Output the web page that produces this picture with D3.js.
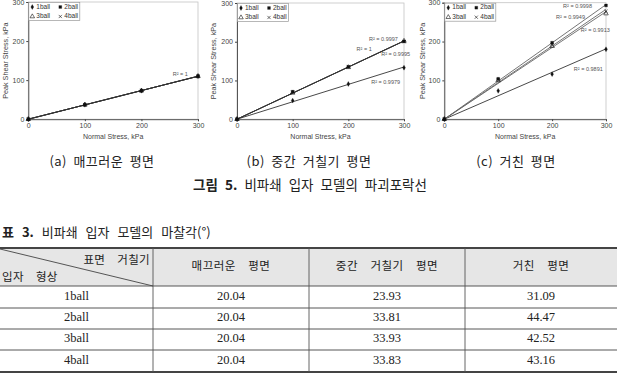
<!DOCTYPE html>
<html>
<head>
<meta charset="utf-8">
<script src="https://cdn.jsdelivr.net/npm/d3@7"></script>
<style>
body { margin: 0; background: #fff; }
svg text { font-family: "Liberation Sans", Arial, sans-serif; }
.kr { font-family: "Noto Sans CJK KR", sans-serif; }
.tbl { font-family: "Liberation Serif", "Noto Sans CJK KR", serif; }
</style>
</head>
<body>
<div id="chart"></div>
<script>
// normal stress (kPa) and series
var stress = [0, 100, 200, 300];
var balls = ['1ball', '2ball', '3ball', '4ball'];
var axisTicks = [0, 100, 200, 300];

// peak shear stress (kPa), one row per ball shape
var smoothShear = [[0, 37, 73, 110], [0, 37, 73, 110], [0, 37, 73, 110], [0, 37, 73, 110]];
var mediumShear = [[0, 48, 91, 133], [0, 71, 135, 201], [0, 68, 134, 202], [0, 70, 136, 200]];
var roughShear = [[0, 73, 116, 180], [0, 104, 197, 293], [0, 100, 188, 272], [0, 102, 192, 278]];

// R^2 of the trend lines
var smoothR2 = ['1', '1', '1', '1'];
var mediumR2 = ['0.9979', '0.9997', '1', '0.9995'];
var roughR2 = ['0.9891', '0.9998', '0.9913', '0.9949'];

var captions = ['(a) 매끄러운 평면', '(b) 중간 거칠기 평면', '(c) 거친 평면'];
var figCaption = '비파쇄 입자 모델의 파괴포락선';
var tblCaption = '비파쇄 입자 모델의 마찰각(°)';
var tableCols = ['매끄러운 평면', '중간 거칠기 평면', '거친 평면'];
var frictionAngle = [['20.04', '23.93', '31.09'], ['20.04', '33.81', '44.47'], ['20.04', '33.93', '42.52'], ['20.04', '33.83', '43.16']];

// where the R^2 labels sit, in data units (right end, middle)
var smoothLabelAt = [[282, 115]];
var mediumLabelAt = [[293, 94], [289, 206], [242, 181], [311, 168]];
var roughLabelAt = [[294, 129], [274, 289], [307, 228], [261, 262]];

var W = 617, H = 379;
var svg = d3.select('#chart').append('svg')
    .attr('width', W)
    .attr('height', H);

var panels = [
  {shear: smoothShear, r2: smoothR2, lab: smoothLabelAt, left: 28.3, right: 198, top: 2, titleX: 6},
  {shear: mediumShear, r2: mediumR2, lab: mediumLabelAt, left: 237, right: 404, top: 3, titleX: 214},
  {shear: roughShear, r2: roughR2, lab: roughLabelAt, left: 444.3, right: 606, top: 2.7, titleX: 423}
];
var plotBottom = 119.2;

var symbols = [
  d3.symbol().type(d3.symbolDiamond).size(7),
  d3.symbol().type(d3.symbolSquare).size(8),
  d3.symbol().type(d3.symbolTriangle).size(9),
  d3.symbol().type(d3.symbolTimes || d3.symbolCross).size(8)
];
var symFill = ['#111', '#111', 'none', 'none'];

panels.forEach(function(p, pi) {
  var x = d3.scaleLinear().domain([0, 300]).range([p.left, p.right]);
  var y = d3.scaleLinear().domain([0, 300]).range([plotBottom, p.top]);
  var g = svg.append('g');

  // light frame
  g.append('rect')
    .attr('x', p.left).attr('y', p.top)
    .attr('width', p.right - p.left).attr('height', plotBottom - p.top)
    .style('fill', 'none').style('stroke', '#c4c4c4').style('stroke-width', 0.8);

  var xAxis = g.append('g')
    .attr('transform', 'translate(0,' + plotBottom + ')')
    .call(d3.axisBottom(x).tickValues(axisTicks).tickSize(2).tickPadding(2));
  var yAxis = g.append('g')
    .attr('transform', 'translate(' + p.left + ',0)')
    .call(d3.axisLeft(y).tickValues(axisTicks).tickSize(2).tickPadding(2));
  [xAxis, yAxis].forEach(function(a) {
    a.select('.domain').style('stroke', '#444').style('stroke-width', 0.9);
    a.selectAll('.tick line').style('stroke', '#444');
    a.selectAll('.tick text')
      .style('font-family', '"Liberation Sans", Arial, sans-serif')
      .style('font-size', '7px')
      .style('fill', '#444');
  });

  g.append('text')
    .attr('x', (p.left + p.right) / 2)
    .attr('y', 139)
    .attr('text-anchor', 'middle')
    .style('font-size', '7px')
    .style('fill', '#444')
    .text('Normal Stress, kPa');

  g.append('text')
    .attr('transform', 'translate(' + p.titleX + ',' + (plotBottom + p.top) / 2 + ') rotate(-90)')
    .attr('text-anchor', 'middle')
    .attr('dominant-baseline', 'middle')
    .style('font-size', '7.2px')
    .style('fill', '#444')
    .text('Peak Shear Stress, kPa');

  // trend lines through origin
  p.shear.forEach(function(vals, si) {
    var sxy = d3.sum(stress, function(s, k) { return s * vals[k]; });
    var sxx = d3.sum(stress, function(s) { return s * s; });
    var k = sxy / sxx;
    g.append('line')
      .attr('x1', x(0)).attr('y1', y(0))
      .attr('x2', x(300)).attr('y2', y(300 * k))
      .style('stroke', pi == 2 && si > 0 ? '#666' : '#333')
      .style('stroke-width', 0.9);
  });

  // points
  p.shear.forEach(function(vals, si) {
    g.selectAll('.pt' + si)
      .data(vals)
      .enter().append('path')
      .attr('class', 'pt' + si)
      .attr('d', symbols[si])
      .attr('transform', function(d, i) { return 'translate(' + x(stress[i]) + ',' + y(d) + ')'; })
      .style('fill', symFill[si])
      .style('stroke', '#111')
      .style('stroke-width', si > 1 ? 0.6 : 0.3);
  });

  // R^2 labels
  p.lab.forEach(function(pos, si) {
    g.append('text')
      .attr('x', x(pos[0]))
      .attr('y', y(pos[1]))
      .attr('text-anchor', 'end')
      .attr('dominant-baseline', 'middle')
      .style('font-size', '5.5px')
      .style('fill', '#555')
      .text('R² = ' + p.r2[si]);
  });

  // legend
  var lg = g.append('g').attr('transform', 'translate(' + (p.left + 0.5) + ',' + (p.top + 0.5) + ')');
  lg.append('rect')
    .attr('width', 51).attr('height', 18)
    .style('fill', '#fff').style('stroke', '#999').style('stroke-width', 0.7);
  balls.forEach(function(b, i) {
    var cx = 3.5 + (i % 2) * 28, cy = 4.5 + Math.floor(i / 2) * 9.5;
    lg.append('path')
      .attr('d', symbols[i])
      .attr('transform', 'translate(' + cx + ',' + cy + ')')
      .style('fill', symFill[i])
      .style('stroke', '#111')
      .style('stroke-width', i > 1 ? 0.6 : 0.3);
    lg.append('text')
      .attr('x', cx + 4).attr('y', cy)
      .attr('dominant-baseline', 'middle')
      .style('font-size', '6.5px')
      .style('fill', '#333')
      .text(b);
  });

  svg.append('text')
    .attr('class', 'kr')
    .attr('x', [102, 309, 516][pi])
    .attr('y', 162)
    .attr('text-anchor', 'middle')
    .attr('dominant-baseline', 'middle')
    .style('font-size', '13px')
    .style('letter-spacing', '0.5px')
    .style('word-spacing', '3px')
    .style('fill', '#222')
    .text(captions[pi]);
});

// figure caption
var fc = svg.append('text')
  .attr('class', 'kr')
  .attr('x', 310).attr('y', 186)
  .attr('text-anchor', 'middle')
  .attr('dominant-baseline', 'middle')
  .style('font-size', '13.5px')
  .style('word-spacing', '4px')
  .style('fill', '#222');
fc.append('tspan').style('font-weight', 'bold').text('그림 5. ');
fc.append('tspan').text(figCaption);

// table caption
var tc = svg.append('text')
  .attr('class', 'kr')
  .attr('x', 2).attr('y', 233)
  .attr('dominant-baseline', 'middle')
  .style('font-size', '13px')
  .style('word-spacing', '5px')
  .style('fill', '#222');
tc.append('tspan').style('font-weight', 'bold').text('표 3. ');
tc.append('tspan').text(tblCaption);

// table
var colEdges = [0, 153, 309, 465, 617];
var rowEdges = [248, 286, 308, 329, 350, 372];
var tx = d3.scaleOrdinal().domain([0, 1, 2, 3]).range([0, 1, 2, 3].map(function(i) { return (colEdges[i] + colEdges[i + 1]) / 2; }));

svg.append('rect')
  .attr('x', 0).attr('y', rowEdges[0])
  .attr('width', W).attr('height', rowEdges[1] - rowEdges[0])
  .style('fill', '#e6e6e6');

rowEdges.forEach(function(r, i) {
  svg.append('line')
    .attr('x1', 0).attr('x2', W)
    .attr('y1', r).attr('y2', r)
    .style('stroke', '#444')
    .style('stroke-width', (i == 0 || i == rowEdges.length - 1) ? 2 : 0.9);
});
colEdges.slice(1, 4).forEach(function(c) {
  svg.append('line')
    .attr('x1', c).attr('x2', c)
    .attr('y1', rowEdges[0]).attr('y2', rowEdges[rowEdges.length - 1])
    .style('stroke', '#555')
    .style('stroke-width', 0.9);
});
svg.append('line')
  .attr('x1', 0).attr('y1', rowEdges[0] + 1)
  .attr('x2', colEdges[1]).attr('y2', rowEdges[1])
  .style('stroke', '#444').style('stroke-width', 0.9);

svg.append('text').attr('class', 'tbl')
  .attr('x', colEdges[1] - 3).attr('y', 261)
  .attr('text-anchor', 'end').attr('dominant-baseline', 'middle')
  .style('font-size', '11.5px').style('fill', '#222')
  .style('letter-spacing', '0.3px').style('word-spacing', '9px')
  .text('표면 거칠기');
svg.append('text').attr('class', 'tbl')
  .attr('x', 2).attr('y', 278)
  .attr('dominant-baseline', 'middle')
  .style('font-size', '11.5px').style('fill', '#222')
  .style('letter-spacing', '0.3px').style('word-spacing', '9px')
  .text('입자 형상');

tableCols.forEach(function(c, i) {
  svg.append('text').attr('class', 'tbl')
    .attr('x', tx(i + 1)).attr('y', (rowEdges[0] + rowEdges[1]) / 2)
    .attr('text-anchor', 'middle').attr('dominant-baseline', 'middle')
    .style('font-size', '11.5px').style('fill', '#222')
    .style('letter-spacing', '0.5px').style('word-spacing', '9px')
    .text(c);
});

balls.forEach(function(b, r) {
  var cy = (rowEdges[r + 1] + rowEdges[r + 2]) / 2;
  [b].concat(frictionAngle[r]).forEach(function(v, c) {
    svg.append('text').attr('class', 'tbl')
      .attr('x', tx(c)).attr('y', cy)
      .attr('text-anchor', 'middle').attr('dominant-baseline', 'middle')
      .style('font-size', '12.5px').style('fill', '#222')
      .text(v);
  });
});
</script>
</body>
</html>
